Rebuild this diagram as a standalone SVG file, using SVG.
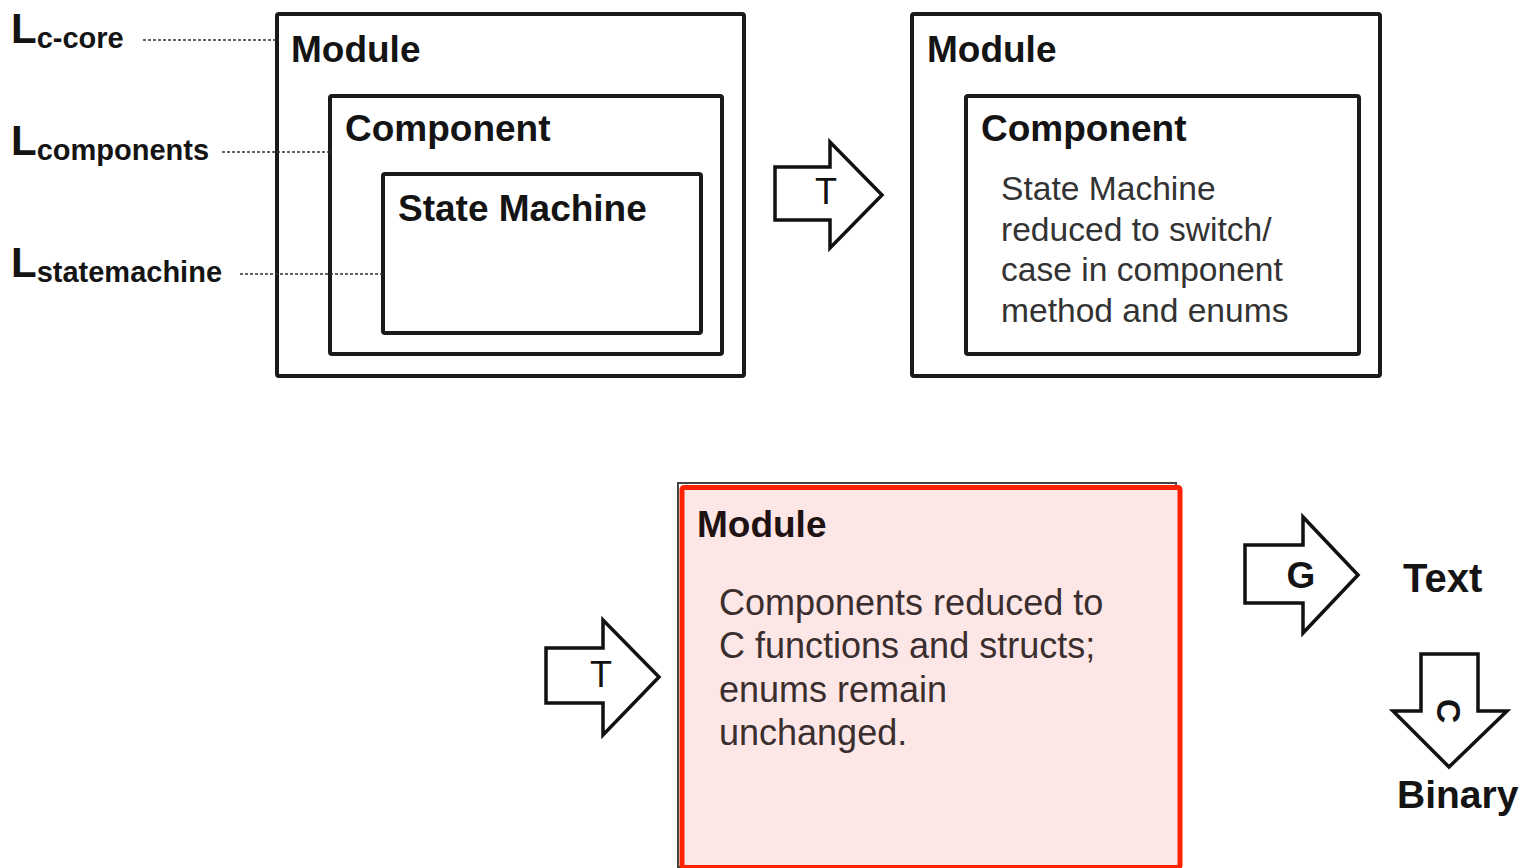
<svg xmlns="http://www.w3.org/2000/svg" width="1522" height="868" viewBox="0 0 1522 868">
  <style>
    .box { fill: #ffffff; stroke: #1a1a1a; stroke-width: 4; }
    .arrow { fill: #ffffff; stroke: #111111; stroke-width: 3.5; stroke-linejoin: miter; }
    .title { font-family: "Liberation Sans", Arial, sans-serif; font-weight: bold; font-size: 37px; fill: #141414; }
    .body { font-family: "Liberation Sans", Arial, sans-serif; font-size: 33.6px; fill: #333333; }
    .cbody { font-family: "Liberation Sans", Arial, sans-serif; font-size: 36px; fill: #3a2e2e; }
    .level { font-family: "Liberation Sans", Arial, sans-serif; font-weight: bold; fill: #141414; }
    .lbl { font-family: "Liberation Sans", Arial, sans-serif; font-size: 36px; fill: #111111; }
    .dash { stroke: #333333; stroke-width: 1.6; stroke-dasharray: 3 2; fill: none; }
  </style>

  <rect width="1522" height="868" fill="#ffffff"/>

  <!-- abstraction level labels -->
  <g id="level-ccore">
    <text class="level" x="11" y="43"><tspan font-size="42">L</tspan><tspan font-size="29" dy="5">c-core</tspan></text>
  </g>
  <g id="level-components">
    <text class="level" x="11" y="155"><tspan font-size="42">L</tspan><tspan font-size="29" dy="5">components</tspan></text>
  </g>
  <g id="level-statemachine">
    <text class="level" x="11" y="277"><tspan font-size="42">L</tspan><tspan font-size="29" dy="5">statemachine</tspan></text>
  </g>

  <!-- source model: module / component / state machine -->
  <g id="src-module">
    <rect class="box" x="277" y="14" width="467" height="362" rx="2"/>
    <text class="title" x="291" y="62">Module</text>
  </g>
  <g id="src-component">
    <rect class="box" x="330" y="96" width="392" height="258" rx="2"/>
    <text class="title" x="345" y="141">Component</text>
  </g>
  <g id="src-statemachine">
    <rect class="box" x="383" y="174" width="318" height="159" rx="2"/>
    <text class="title" x="398" y="221">State Machine</text>
  </g>

  <!-- after first transformation -->
  <g id="mid-module">
    <rect class="box" x="912" y="14" width="468" height="362" rx="2"/>
    <text class="title" x="927" y="62">Module</text>
  </g>
  <g id="mid-component">
    <rect class="box" x="966" y="96" width="393" height="258" rx="2"/>
    <text class="title" x="981" y="141">Component</text>
    <text class="body" x="1001" y="200">State Machine</text>
    <text class="body" x="1001" y="241">reduced to switch/</text>
    <text class="body" x="1001" y="281">case in component</text>
    <text class="body" x="1001" y="322">method and enums</text>
  </g>

  <!-- after second transformation: C level -->
  <g id="c-module">
    <rect x="678" y="483" width="498" height="384" fill="none" stroke="#444444" stroke-width="2"/>
    <rect x="682" y="487.5" width="498" height="380" rx="2" fill="#fde6e6" stroke="#ff2200" stroke-width="5"/>
    <text class="title" x="697" y="537" style="fill:#1e1212">Module</text>
    <text class="cbody" x="719" y="615">Components reduced to</text>
    <text class="cbody" x="719" y="658">C functions and structs;</text>
    <text class="cbody" x="719" y="702">enums remain</text>
    <text class="cbody" x="719" y="745">unchanged.</text>
  </g>

  <!-- outputs -->
  <g id="out-text">
    <text class="title" x="1403" y="592" style="font-size:40px">Text</text>
  </g>
  <g id="out-binary">
    <text class="title" x="1397" y="808" style="font-size:39px">Binary</text>
  </g>

  <!-- connectors: level guides and transformation arrows -->
  <g id="connectors">
    <line class="dash" x1="143" y1="40" x2="277" y2="40"/>
    <line class="dash" x1="222" y1="152" x2="330" y2="152"/>
    <line class="dash" x1="240" y1="274" x2="383" y2="274"/>

    <g id="arrow-t1">
      <polygon class="arrow" points="775,167 830,167 830,142 882,195 830,248 830,220 775,220"/>
      <text class="lbl" x="826" y="204" text-anchor="middle">T</text>
    </g>
    <g id="arrow-t2">
      <polygon class="arrow" points="546,648 603,648 603,620 659,677 603,735 603,703 546,703"/>
      <text class="lbl" x="601" y="687" text-anchor="middle">T</text>
    </g>
    <g id="arrow-g">
      <polygon class="arrow" points="1245,545 1303,545 1303,517 1358,575 1303,633 1303,603 1245,603"/>
      <text class="title" x="1301" y="588" text-anchor="middle" style="font-size:37px">G</text>
    </g>
    <g id="arrow-c">
      <polygon class="arrow" points="1421,654 1478,654 1478,711 1507,711 1449,767 1393,711 1421,711"/>
      <text class="title" text-anchor="middle" transform="translate(1449,711) rotate(90)" x="0" y="12" style="font-size:34px">C</text>
    </g>
  </g>
</svg>
